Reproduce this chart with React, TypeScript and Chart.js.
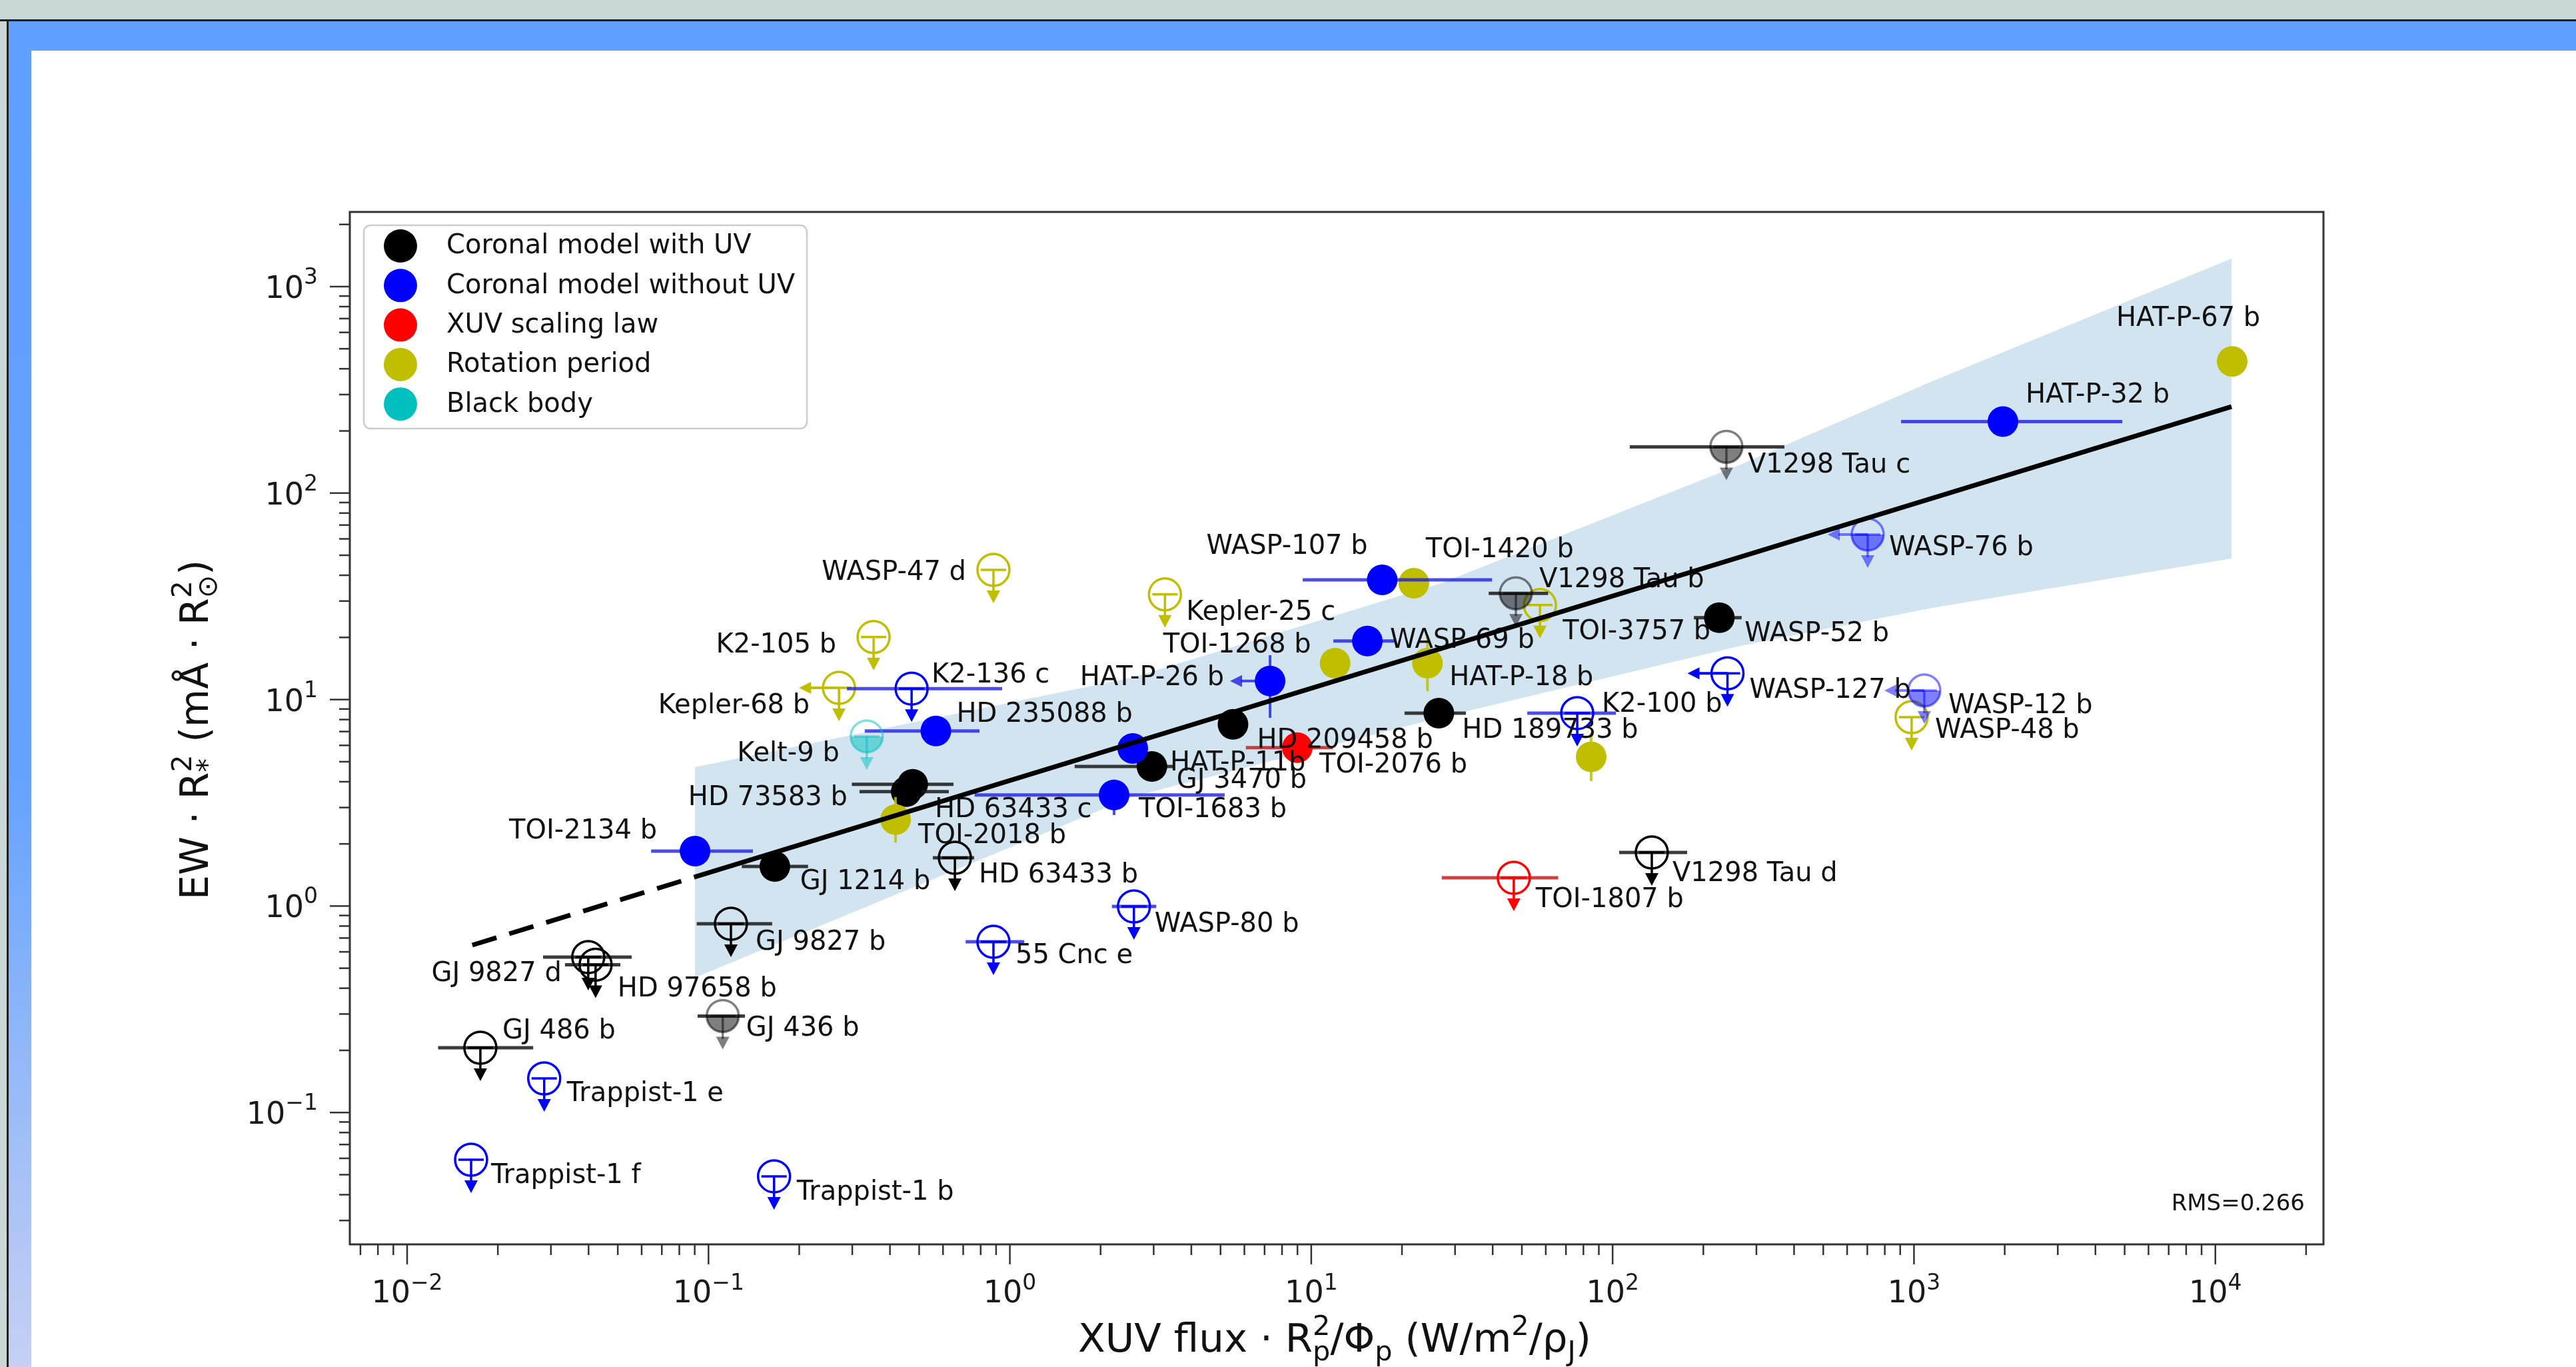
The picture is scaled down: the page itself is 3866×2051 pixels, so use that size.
import React, { useEffect, useRef } from 'react';
import { Chart, registerables } from 'chart.js';

Chart.register(...registerables);

const FONT = '"DejaVu Sans", "Liberation Sans", sans-serif';

// ---------------- data ----------------
// detections: [name, x, y, xLo, xHi, yLo, yHi]
type Det = [string, number, number, number | null, number | null, number | null, number | null];
// upper limits: [name, x, y, xLo, xHi]
type Lim = [string, number, number, number | null, number | null];

const coronalWithUV: Det[] = [
  ['GJ 1214 b', 0.166, 1.555, 0.129, 0.214, null, null],
  ['HD 73583 b', 0.476, 3.89, 0.299, 0.65, null, null],
  ['HD 63433 c', 0.453, 3.58, 0.317, 0.627, null, null],
  ['GJ 3470 b', 2.96, 4.74, 1.64, 3.47, null, null],
  ['HD 209458 b', 5.5, 7.59, null, null, null, null],
  ['HD 189733 b', 26.5, 8.6, 20.4, 32.6, null, null],
  ['WASP-52 b', 226, 24.9, 186, 268, null, null],
];

const coronalWithoutUV: Det[] = [
  ['TOI-2134 b', 0.0902, 1.845, 0.0645, 0.1404, null, null],
  ['HD 235088 b', 0.568, 7.05, 0.33, 0.793, null, null],
  ['TOI-1683 b', 2.217, 3.45, 0.764, 5.16, 2.76, 4.09],
  ['HAT-P-11b', 2.557, 5.8, null, null, null, null],
  ['HAT-P-26 b', 7.3, 12.3, null, null, 8.16, 16.4],
  ['WASP-69 b', 15.35, 19.2, 11.84, 18.9, null, null],
  ['WASP-107 b', 17.2, 38.0, 9.37, 39.8, null, null],
  ['HAT-P-32 b', 1973, 222, 906, 4910, null, null],
];

const xuvScaling: Det[] = [
  ['TOI-2076 b', 8.99, 5.85, 6.07, 11.8, null, null],
];

const rotationPeriod: Det[] = [
  ['TOI-2018 b', 0.4175, 2.62, null, null, 2.03, 3.37],
  ['TOI-1268 b', 12.0, 15.0, null, null, null, null],
  ['TOI-1420 b', 21.9, 36.6, null, null, null, null],
  ['HAT-P-18 b', 24.3, 15.0, null, null, 10.98, 20.5],
  ['WASP-177 b', 84.9, 5.28, null, null, 4.03, 6.9],
  ['HAT-P-67 b', 11370, 434, null, null, null, null],
];

const coronalWithUVLimits: Lim[] = [
  ['GJ 486 b', 0.0175, 0.206, 0.01267, 0.0262],
  ['GJ 9827 d', 0.0399, 0.566, 0.02825, 0.0556],
  ['HD 97658 b', 0.0422, 0.52, 0.0334, 0.051],
  ['GJ 9827 b', 0.1187, 0.821, 0.0914, 0.1627],
  ['GJ 436 b', 0.1115, 0.293, 0.092, 0.1321],
  ['HD 63433 b', 0.657, 1.713, 0.555, 0.761],
  ['V1298 Tau b', 47.75, 32.7, 38.8, 61.1],
  ['V1298 Tau d', 134.9, 1.817, 105.1, 176.7],
  ['V1298 Tau c', 238.5, 167.4, 114.0, 371.5],
];

const coronalWithoutUVLimits: Lim[] = [
  ['Trappist-1 f', 0.0163, 0.0591, null, null],
  ['Trappist-1 e', 0.0285, 0.1463, null, null],
  ['Trappist-1 b', 0.165, 0.0491, null, null],
  ['K2-136 c', 0.472, 11.3, 0.288, 0.943],
  ['55 Cnc e', 0.882, 0.671, 0.713, 1.115],
  ['WASP-80 b', 2.58, 0.996, 2.18, 3.06],
  ['K2-100 b', 76.3, 8.6, 52.1, 102.5],
  ['WASP-127 b', 240.5, 13.4, null, null],
  ['WASP-76 b', 702, 63.0, null, null],
  ['WASP-12 b', 1082, 11.06, null, null],
];

const xuvScalingLimits: Lim[] = [
  ['TOI-1807 b', 47.0, 1.371, 27.1, 66.0],
];

const rotationPeriodLimits: Lim[] = [
  ['WASP-47 d', 0.882, 42.5, null, null],
  ['Kepler-25 c', 3.27, 32.3, null, null],
  ['K2-105 b', 0.353, 20.1, null, null],
  ['Kepler-68 b', 0.271, 11.4, null, null],
  ['TOI-3757 b', 57.4, 28.7, null, null],
  ['WASP-48 b', 982, 8.22, null, null],
];

const blackBodyLimits: Lim[] = [
  ['Kelt-9 b', 0.335, 6.63, null, null],
];

// planets whose x value is itself an upper limit (left arrow)
const xUpperLimitNames = ['HAT-P-26 b', 'Kepler-68 b', 'WASP-127 b', 'WASP-76 b', 'WASP-12 b'];
// planets drawn with half-filled, translucent markers
const partialFillNames = ['GJ 436 b', 'V1298 Tau b', 'V1298 Tau c', 'WASP-76 b', 'WASP-12 b', 'Kelt-9 b'];

// confidence band edges and fit line
const bandX = [0.0902, 2.56, 27.1, 266, 1150, 11310];
const bandUpper = [4.71, 12.8, 36.7, 137.5, 348, 1366];
const bandLower = [0.45, 3.39, 8.22, 18.2, 27.8, 48.2];
const fitDashedX = [0.01645, 0.0902];
const fitDashedY = [0.647, 1.384];
const fitSolidX = [0.0902, 11310];
const fitSolidY = [1.384, 262];

const legendNames = ['Coronal model with UV', 'Coronal model without UV', 'XUV scaling law', 'Rotation period', 'Black body'];

const xMajorExponents = [-2, -1, 0, 1, 2, 3, 4];
const xTickSuper = ['−2', '−1', '0', '1', '2', '3', '4'];
const yMajorExponents = [-1, 0, 1, 2, 3];
const yTickSuper = ['−1', '0', '1', '2', '3'];
const rmsText = 'RMS=0.266';

// ---------------- styles / placement ----------------
const COLORS = { uv: '#000000', nouv: '#0000ff', xuv: '#ff0000', rot: '#bfbf00', bb: '#00bfbf' };
const ERR = {
  uv: 'rgba(25,25,25,0.85)',
  nouv: 'rgba(30,30,225,0.8)',
  xuv: 'rgba(200,30,30,0.85)',
  rot: 'rgba(191,191,0,0.85)',
  bb: 'rgba(0,191,191,0.85)',
};
const legendColors = [COLORS.uv, COLORS.nouv, COLORS.xuv, COLORS.rot, COLORS.bb];

// label placement relative to marker: [align, dx, dy]
const labelPlacement: Record<string, [string, number, number]> = {
  'HAT-P-67 b': ['l', -174, -64],
  'HAT-P-32 b': ['l', 34, -39],
  'V1298 Tau c': ['l', 32, 28],
  'WASP-76 b': ['l', 32, 21],
  'WASP-107 b': ['l', -264, -49],
  'TOI-1420 b': ['l', 18, -49],
  'V1298 Tau b': ['l', 35, -20],
  'WASP-47 d': ['r', -41, 5],
  'Kepler-25 c': ['l', 32, 28],
  'TOI-3757 b': ['l', 34, 41],
  'WASP-52 b': ['l', 38, 25],
  'K2-105 b': ['r', -56, 13],
  'TOI-1268 b': ['r', -36, -26],
  'WASP-69 b': ['l', 34, 0],
  'HAT-P-26 b': ['r', -69, -4],
  'HAT-P-18 b': ['l', 33, 23],
  'K2-136 c': ['l', 30, -20],
  'WASP-127 b': ['l', 33, 26],
  'WASP-12 b': ['l', 36, 24],
  'WASP-48 b': ['l', 35, 21],
  'Kepler-68 b': ['r', -44, 28],
  'K2-100 b': ['l', 37, -12],
  'HD 189733 b': ['l', 35, 27],
  'HD 235088 b': ['l', 31, -24],
  'HD 209458 b': ['l', 36, 25],
  'Kelt-9 b': ['r', -41, 27],
  'TOI-2076 b': ['l', 33, 27],
  'HAT-P-11b': ['l', 56, 23],
  'GJ 3470 b': ['l', 37, 22],
  'HD 73583 b': ['r', -98, 21],
  'HD 63433 c': ['l', 43, 28],
  'TOI-1683 b': ['l', 37, 23],
  'TOI-2018 b': ['l', 34, 25],
  'TOI-2134 b': ['r', -57, -29],
  'GJ 1214 b': ['l', 38, 24],
  'HD 63433 b': ['l', 36, 27],
  'V1298 Tau d': ['l', 31, 33],
  'TOI-1807 b': ['l', 33, 34],
  'WASP-80 b': ['l', 31, 28],
  'GJ 9827 b': ['l', 37, 29],
  '55 Cnc e': ['l', 33, 22],
  'GJ 9827 d': ['r', -40, 26],
  'HD 97658 b': ['l', 33, 37],
  'GJ 486 b': ['l', 33, -24],
  'GJ 436 b': ['l', 35, 19],
  'Trappist-1 e': ['l', 34, 24],
  'Trappist-1 f': ['l', 30, 25],
  'Trappist-1 b': ['l', 34, 25],
};

const W = 3866;
const H = 2051;
const AREA = { left: 525, top: 318, right: 3487, bottom: 1867 };

// ---------------- drawing helpers ----------------
function seg(ctx: CanvasRenderingContext2D, x1: number, y1: number, x2: number, y2: number) {
  ctx.beginPath();
  ctx.moveTo(x1, y1);
  ctx.lineTo(x2, y2);
  ctx.stroke();
}

function leftArrow(ctx: CanvasRenderingContext2D, px: number, py: number, color: string) {
  ctx.save();
  ctx.strokeStyle = color;
  ctx.fillStyle = color;
  ctx.lineWidth = 4;
  seg(ctx, px, py, px - 44, py);
  ctx.beginPath();
  ctx.moveTo(px - 60, py);
  ctx.lineTo(px - 42, py - 9);
  ctx.lineTo(px - 42, py + 9);
  ctx.closePath();
  ctx.fill();
  ctx.restore();
}

function drawDetections(chart: any, ds: any, meta: any) {
  const ctx: CanvasRenderingContext2D = chart.ctx;
  const xs = chart.scales.x;
  const ys = chart.scales.y;
  ctx.save();
  ctx.beginPath();
  ctx.rect(AREA.left, AREA.top, AREA.right - AREA.left, AREA.bottom - AREA.top);
  ctx.clip();
  (ds.rows as Det[]).forEach((r, i) => {
    const el = meta.data[i];
    if (!el) return;
    const px = el.x;
    const py = el.y;
    ctx.save();
    ctx.strokeStyle = ds.errColor;
    if (r[3] != null && r[4] != null) {
      ctx.lineWidth = 5;
      seg(ctx, xs.getPixelForValue(r[3]), py, xs.getPixelForValue(r[4]), py);
    }
    if (r[5] != null && r[6] != null) {
      ctx.lineWidth = 4;
      seg(ctx, px, ys.getPixelForValue(r[5]), px, ys.getPixelForValue(r[6]));
    }
    if (xUpperLimitNames.includes(r[0])) leftArrow(ctx, px, py, ds.errColor);
    ctx.fillStyle = ds.color;
    ctx.beginPath();
    ctx.arc(px, py, 23, 0, Math.PI * 2);
    ctx.fill();
    ctx.restore();
  });
  ctx.restore();
}

function drawLimits(chart: any, ds: any, meta: any) {
  const ctx: CanvasRenderingContext2D = chart.ctx;
  const xs = chart.scales.x;
  ctx.save();
  ctx.beginPath();
  ctx.rect(AREA.left, AREA.top, AREA.right - AREA.left, AREA.bottom - AREA.top);
  ctx.clip();
  (ds.rows as Lim[]).forEach((r, i) => {
    const el = meta.data[i];
    if (!el) return;
    const px = el.x;
    const py = el.y;
    const partial = partialFillNames.includes(r[0]);
    ctx.save();
    if (r[3] != null && r[4] != null) {
      ctx.strokeStyle = ds.errColor;
      ctx.lineWidth = 5;
      seg(ctx, xs.getPixelForValue(r[3]), py, xs.getPixelForValue(r[4]), py);
    }
    ctx.globalAlpha = partial ? 0.5 : 1;
    if (partial) {
      ctx.fillStyle = ds.color;
      ctx.beginPath();
      ctx.arc(px, py, 24, 0, Math.PI);
      ctx.closePath();
      ctx.fill();
    }
    ctx.strokeStyle = ds.color;
    ctx.fillStyle = ds.color;
    ctx.lineWidth = 3.5;
    seg(ctx, px - 19, py, px + 19, py);
    seg(ctx, px, py, px, py + 34);
    ctx.beginPath();
    ctx.moveTo(px - 10, py + 31);
    ctx.lineTo(px + 10, py + 31);
    ctx.lineTo(px, py + 50);
    ctx.closePath();
    ctx.fill();
    if (xUpperLimitNames.includes(r[0])) leftArrow(ctx, px, py, ds.color);
    ctx.beginPath();
    ctx.arc(px, py, 24, 0, Math.PI * 2);
    ctx.stroke();
    ctx.restore();
  });
  ctx.restore();
}

function drawLabels(chart: any) {
  const ctx: CanvasRenderingContext2D = chart.ctx;
  ctx.save();
  ctx.font = `40px ${FONT}`;
  ctx.fillStyle = '#111111';
  ctx.textBaseline = 'middle';
  chart.data.datasets.forEach((ds: any, di: number) => {
    if (!ds.markerKind) return;
    const meta = chart.getDatasetMeta(di);
    ds.rows.forEach((r: any, i: number) => {
      const el = meta.data[i];
      const p = labelPlacement[r[0]];
      if (!el || !p) return;
      ctx.textAlign = p[0] === 'r' ? 'right' : 'left';
      ctx.fillText(r[0], el.x + p[1], el.y + p[2]);
    });
  });
  ctx.restore();
}

type Seg = { t?: string; sup?: string; sub?: string };

function richWidth(ctx: CanvasRenderingContext2D, segs: Seg[], F: number) {
  let w = 0;
  segs.forEach((s) => {
    if (s.t) {
      ctx.font = `${F}px ${FONT}`;
      w += ctx.measureText(s.t).width;
    } else {
      ctx.font = `${F * 0.7}px ${FONT}`;
      const a = s.sup ? ctx.measureText(s.sup).width : 0;
      const b = s.sub ? ctx.measureText(s.sub).width : 0;
      w += Math.max(a, b);
    }
  });
  return w;
}

function drawRich(ctx: CanvasRenderingContext2D, segs: Seg[], x: number, y: number, F: number) {
  let cx = x;
  ctx.textAlign = 'left';
  ctx.textBaseline = 'alphabetic';
  segs.forEach((s) => {
    if (s.t) {
      ctx.font = `${F}px ${FONT}`;
      ctx.fillText(s.t, cx, y);
      cx += ctx.measureText(s.t).width;
    } else {
      ctx.font = `${F * 0.7}px ${FONT}`;
      let a = 0;
      let b = 0;
      if (s.sup) {
        ctx.fillText(s.sup, cx, y - F * 0.42);
        a = ctx.measureText(s.sup).width;
      }
      if (s.sub) {
        ctx.fillText(s.sub, cx, y + F * 0.22);
        b = ctx.measureText(s.sub).width;
      }
      cx += Math.max(a, b);
    }
  });
}

function drawFrame(ctx: CanvasRenderingContext2D) {
  ctx.save();
  ctx.fillStyle = '#ffffff';
  ctx.fillRect(0, 0, W, H);
  ctx.fillStyle = '#c8d6d6';
  ctx.fillRect(0, 0, W, 30);
  ctx.fillRect(0, 30, 10, H - 30);
  ctx.fillStyle = '#1e1e1e';
  ctx.fillRect(0, 29, W, 3);
  ctx.fillRect(10, 30, 3, H - 30);
  ctx.fillStyle = '#60a0ff';
  ctx.fillRect(13, 32, W - 13, 44);
  const g = ctx.createLinearGradient(0, 76, 0, H);
  g.addColorStop(0, '#60a0ff');
  g.addColorStop(0.55, '#64a2fd');
  g.addColorStop(1, '#c6d0f4');
  ctx.fillStyle = g;
  ctx.fillRect(13, 76, 34, H - 76);
  ctx.restore();
}

function drawAxes(chart: any) {
  const ctx: CanvasRenderingContext2D = chart.ctx;
  const xs = chart.scales.x;
  const ys = chart.scales.y;
  const { left, right, top, bottom } = chart.chartArea;
  ctx.save();
  ctx.strokeStyle = '#333333';
  ctx.lineWidth = 3;
  ctx.strokeRect(left, top, right - left, bottom - top);

  // ticks
  ctx.lineWidth = 2.5;
  for (let d = -3; d <= 4; d++) {
    for (let k = 1; k <= 9; k++) {
      const v = k * Math.pow(10, d);
      if (v < xs.min || v > xs.max) continue;
      const px = xs.getPixelForValue(v);
      seg(ctx, px, bottom, px, bottom + (k === 1 ? 30 : 16));
    }
  }
  for (let d = -2; d <= 3; d++) {
    for (let k = 1; k <= 9; k++) {
      const v = k * Math.pow(10, d);
      if (v < ys.min || v > ys.max) continue;
      const py = ys.getPixelForValue(v);
      seg(ctx, left, py, left - (k === 1 ? 30 : 16), py);
    }
  }

  // tick labels
  ctx.fillStyle = '#1a1a1a';
  ctx.textBaseline = 'alphabetic';
  const F = 46;
  const FS = 33;
  xMajorExponents.forEach((e, i) => {
    const px = xs.getPixelForValue(Math.pow(10, e));
    ctx.font = `${F}px ${FONT}`;
    const w1 = ctx.measureText('10').width;
    ctx.font = `${FS}px ${FONT}`;
    const w2 = ctx.measureText(xTickSuper[i]).width;
    const x0 = px - (w1 + w2) / 2;
    ctx.textAlign = 'left';
    ctx.font = `${F}px ${FONT}`;
    ctx.fillText('10', x0, bottom + 87);
    ctx.font = `${FS}px ${FONT}`;
    ctx.fillText(xTickSuper[i], x0 + w1, bottom + 68);
  });
  yMajorExponents.forEach((e, i) => {
    const py = ys.getPixelForValue(Math.pow(10, e));
    ctx.font = `${FS}px ${FONT}`;
    const w2 = ctx.measureText(yTickSuper[i]).width;
    ctx.textAlign = 'right';
    ctx.fillText(yTickSuper[i], left - 48, py - 4);
    ctx.font = `${F}px ${FONT}`;
    ctx.fillText('10', left - 48 - w2, py + 17);
  });

  // axis titles
  ctx.fillStyle = '#111111';
  const xTitle: Seg[] = [
    { t: 'XUV flux · R' }, { sup: '2', sub: 'p' }, { t: '/Φ' }, { sub: 'p' },
    { t: ' (W/m' }, { sup: '2' }, { t: '/ρ' }, { sub: 'J' }, { t: ')' },
  ];
  let FX = 54;
  FX = FX * 770 / richWidth(ctx, xTitle, FX);
  const wx = richWidth(ctx, xTitle, FX);
  drawRich(ctx, xTitle, 2003 - wx / 2, 2028, FX);

  const yTitle: Seg[] = [
    { t: 'EW · R' }, { sup: '2', sub: '*' }, { t: ' (mÅ · R' }, { sup: '2', sub: '⊙' }, { t: ')' },
  ];
  let FY = 46;
  FY = FY * 510 / richWidth(ctx, yTitle, FY);
  const wy = richWidth(ctx, yTitle, FY);
  ctx.save();
  ctx.translate(312, 1095);
  ctx.rotate(-Math.PI / 2);
  drawRich(ctx, yTitle, -wy / 2, 0, FY);
  ctx.restore();

  // legend
  const lx = 546, ly = 338, lw = 665, lh = 305, rr = 10;
  ctx.beginPath();
  ctx.moveTo(lx + rr, ly);
  ctx.arcTo(lx + lw, ly, lx + lw, ly + lh, rr);
  ctx.arcTo(lx + lw, ly + lh, lx, ly + lh, rr);
  ctx.arcTo(lx, ly + lh, lx, ly, rr);
  ctx.arcTo(lx, ly, lx + lw, ly, rr);
  ctx.closePath();
  ctx.fillStyle = 'rgba(255,255,255,0.8)';
  ctx.fill();
  ctx.strokeStyle = '#cccccc';
  ctx.lineWidth = 2.5;
  ctx.stroke();
  ctx.font = `40px ${FONT}`;
  ctx.textAlign = 'left';
  ctx.textBaseline = 'middle';
  legendNames.forEach((n, i) => {
    const cy = 369 + i * 59.3;
    ctx.fillStyle = legendColors[i];
    ctx.beginPath();
    ctx.arc(601, cy, 25, 0, Math.PI * 2);
    ctx.fill();
    ctx.fillStyle = '#111111';
    ctx.fillText(n, 670, cy + 1);
  });

  // RMS annotation
  ctx.font = `34px ${FONT}`;
  ctx.textAlign = 'right';
  ctx.textBaseline = 'middle';
  ctx.fillStyle = '#111111';
  ctx.fillText(rmsText, 3459, 1807);
  ctx.restore();
}

function markerDataset(rows: any[], kind: string, key: keyof typeof COLORS) {
  return {
    type: 'scatter',
    label: key + kind,
    data: rows.map((r) => ({ x: r[1], y: r[2] })),
    rows,
    markerKind: kind,
    color: COLORS[key],
    errColor: ERR[key],
    pointRadius: 0,
    pointHoverRadius: 0,
    showLine: false,
    order: 10,
  } as any;
}

export default function App() {
  const ref = useRef<HTMLCanvasElement | null>(null);

  useEffect(() => {
    if (!ref.current) return;
    let labelsDone = false;
    const plugin = {
      id: 'customDraw',
      beforeDraw(chart: any) {
        labelsDone = false;
        drawFrame(chart.ctx);
      },
      afterDatasetDraw(chart: any, args: any) {
        const ds: any = chart.data.datasets[args.index];
        if (ds.markerKind === 'det') drawDetections(chart, ds, args.meta);
        if (ds.markerKind === 'lim') drawLimits(chart, ds, args.meta);
      },
      beforeDatasetDraw(chart: any, args: any) {
        const ds: any = chart.data.datasets[args.index];
        if (ds.isFit && !labelsDone) {
          drawLabels(chart);
          labelsDone = true;
        }
      },
      afterDraw(chart: any) {
        drawAxes(chart);
      },
    };

    const datasets: any[] = [
      {
        type: 'line',
        label: 'band upper',
        data: bandX.map((x, i) => ({ x, y: bandUpper[i] })),
        borderWidth: 0,
        pointRadius: 0,
        fill: '+1',
        backgroundColor: 'rgba(31,119,180,0.2)',
        borderColor: 'rgba(0,0,0,0)',
        order: 20,
      },
      {
        type: 'line',
        label: 'band lower',
        data: bandX.map((x, i) => ({ x, y: bandLower[i] })),
        borderWidth: 0,
        pointRadius: 0,
        fill: false,
        borderColor: 'rgba(0,0,0,0)',
        order: 20,
      },
      markerDataset(coronalWithUVLimits, 'lim', 'uv'),
      markerDataset(coronalWithoutUVLimits, 'lim', 'nouv'),
      markerDataset(xuvScalingLimits, 'lim', 'xuv'),
      markerDataset(rotationPeriodLimits, 'lim', 'rot'),
      markerDataset(blackBodyLimits, 'lim', 'bb'),
      markerDataset(coronalWithoutUV, 'det', 'nouv'),
      markerDataset(rotationPeriod, 'det', 'rot'),
      markerDataset(coronalWithUV, 'det', 'uv'),
      markerDataset(xuvScaling, 'det', 'xuv'),
      {
        type: 'line',
        label: 'fit dashed',
        data: fitDashedX.map((x, i) => ({ x, y: fitDashedY[i] })),
        borderColor: '#000000',
        borderWidth: 7,
        borderDash: [38, 20],
        pointRadius: 0,
        fill: false,
        isFit: true,
        order: 0,
      },
      {
        type: 'line',
        label: 'fit',
        data: fitSolidX.map((x, i) => ({ x, y: fitSolidY[i] })),
        borderColor: '#000000',
        borderWidth: 7,
        pointRadius: 0,
        fill: false,
        isFit: true,
        order: 0,
      },
    ];

    const chart = new Chart(ref.current, {
      type: 'scatter',
      data: { datasets },
      options: {
        responsive: false,
        devicePixelRatio: 1,
        animation: false,
        events: [],
        layout: { padding: { top: AREA.top, right: W - AREA.right, left: 0, bottom: 0 } },
        plugins: { legend: { display: false }, tooltip: { enabled: false } },
        scales: {
          x: {
            type: 'logarithmic',
            min: 0.006454,
            max: 22840,
            ticks: { display: false },
            grid: { display: false },
            border: { display: false },
            afterFit: (s: any) => { s.height = H - AREA.bottom; },
          },
          y: {
            type: 'logarithmic',
            min: 0.02299,
            max: 2299,
            ticks: { display: false },
            grid: { display: false },
            border: { display: false },
            afterFit: (s: any) => { s.width = AREA.left; },
          },
        },
      } as any,
      plugins: [plugin as any],
    });
    return () => chart.destroy();
  }, []);

  return (
    <div style={{ position: 'fixed', left: 0, top: 0, width: W, height: H, overflow: 'hidden' }}>
      <canvas ref={ref} width={W} height={H} style={{ display: 'block', width: W, height: H }} />
    </div>
  );
}
